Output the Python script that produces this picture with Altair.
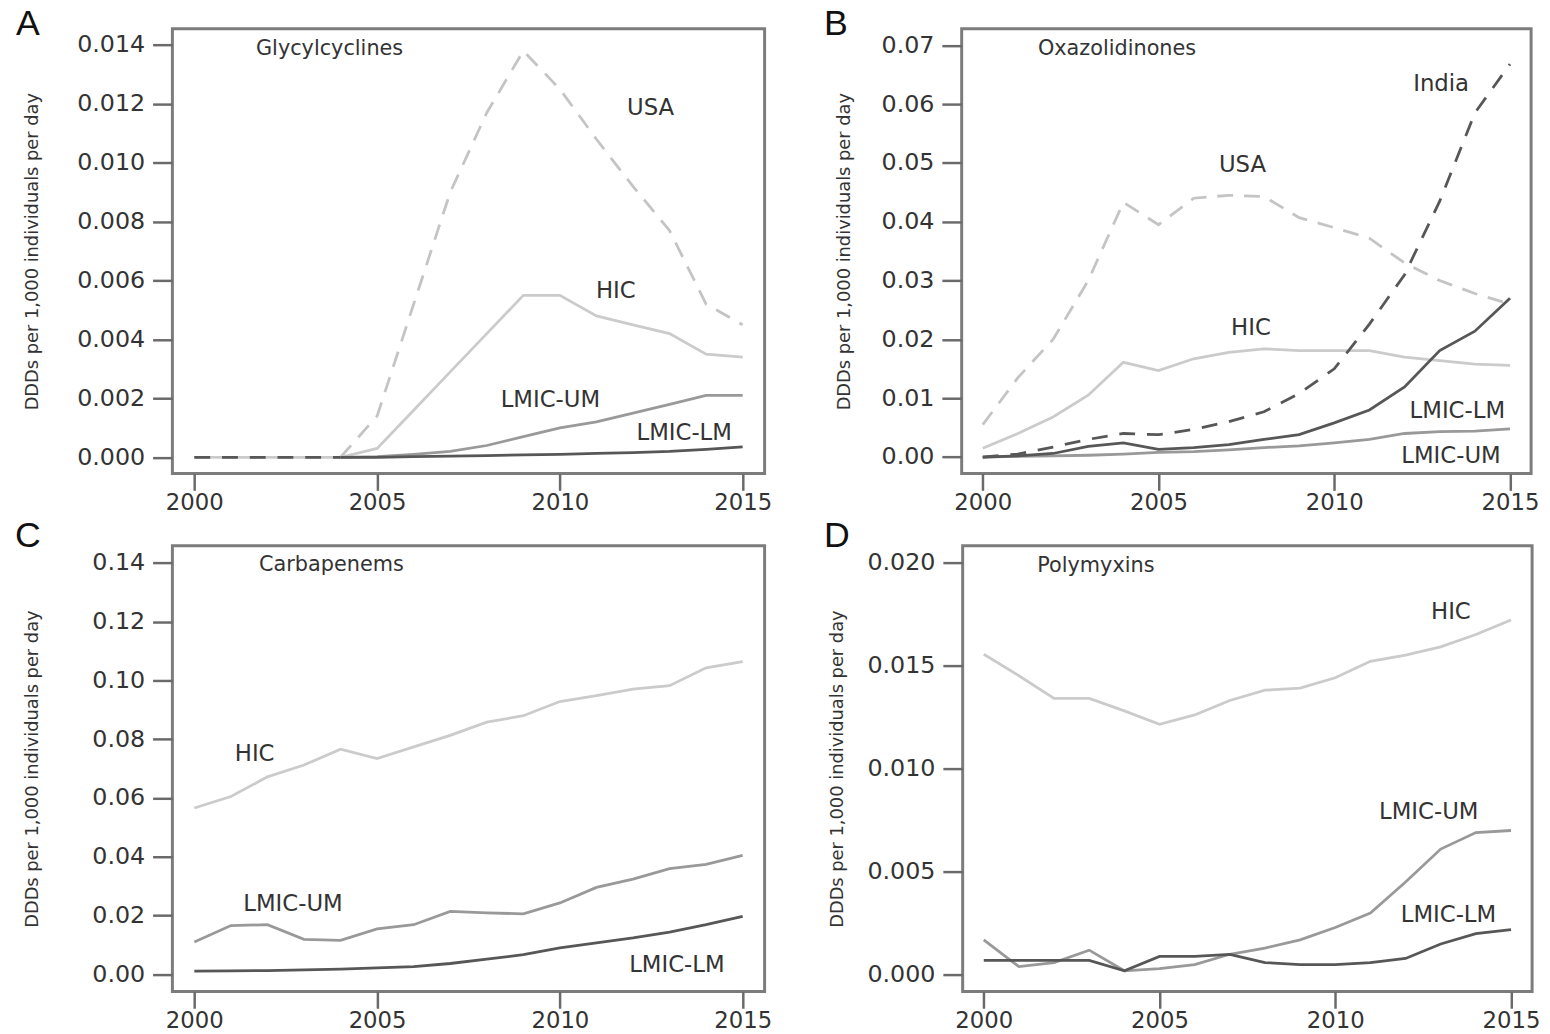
import altair as alt
import pandas as pd

YEARS = list(range(2000, 2016))
N = None

# ---------------- Panel A : Glycylcyclines ----------------
A_USA = [N, N, N, N, 0.0, 0.0014, 0.0052, 0.0090, 0.0117, 0.0138, 0.0125, 0.0108, 0.0092, 0.0077, 0.0052, 0.0045]
A_HIC = [0.0, 0.0, 0.0, 0.0, 0.0, 0.0003, 0.0016, 0.0029, 0.0042, 0.0055, 0.0055, 0.0048, 0.0045, 0.0042, 0.0035, 0.0034]
A_UM = [N, N, N, N, 0.0, 0.00002, 0.0001, 0.0002, 0.0004, 0.0007, 0.0010, 0.0012, 0.0015, 0.0018, 0.0021, 0.0021]
A_LM = [N, N, N, N, 0.0, 0.0, 0.00002, 0.00004, 0.00006, 0.00008, 0.0001, 0.00013, 0.00016, 0.0002, 0.00027, 0.00035]
A_INDIA = [0.0, 0.0, 0.0, 0.0, 0.0, N, N, N, N, N, N, N, N, N, N, N]
A_TITLE = ("Glycylcyclines", 2003.7, 0.01387)
A_LABELS = ["USA", "HIC", "LMIC-UM", "LMIC-LM"]
A_LABEL_X = [2012.48, 2011.53, 2009.74, 2013.4]
A_LABEL_Y = [0.01185, 0.00564, 0.00195, 0.00081]
A_YTICKS = [0.0, 0.002, 0.004, 0.006, 0.008, 0.010, 0.012, 0.014]

# ---------------- Panel B : Oxazolidinones ----------------
B_USA = [0.0055, 0.0135, 0.0200, 0.0300, 0.0433, 0.0395, 0.0440, 0.0445, 0.0443, 0.0407, 0.0390, 0.0372, 0.0330, 0.0300, 0.0278, 0.0260]
B_HIC = [0.0015, 0.0040, 0.0068, 0.0105, 0.0161, 0.0147, 0.0167, 0.0178, 0.0184, 0.0181, 0.0181, 0.0181, 0.0170, 0.0164, 0.0158, 0.0156]
B_UM = [0.0, 0.0001, 0.0002, 0.0003, 0.0005, 0.0008, 0.0009, 0.0012, 0.0016, 0.0019, 0.0024, 0.0030, 0.0040, 0.0043, 0.0044, 0.0048]
B_LM = [0.0, 0.0002, 0.0006, 0.0018, 0.0024, 0.0013, 0.0016, 0.0021, 0.0030, 0.0038, 0.0058, 0.0080, 0.0119, 0.0181, 0.0214, 0.0270]
B_INDIA = [0.0, 0.0005, 0.0017, 0.0030, 0.0040, 0.0038, 0.0047, 0.0060, 0.0077, 0.0108, 0.0150, 0.0226, 0.0310, 0.0435, 0.0585, 0.0668]
B_TITLE = ("Oxazolidinones", 2003.82, 0.0693)
B_LABELS = ["India", "USA", "HIC", "LMIC-LM", "LMIC-UM"]
B_LABEL_X = [2013.04, 2007.39, 2007.63, 2013.5, 2013.32]
B_LABEL_Y = [0.0634, 0.0497, 0.0220, 0.0078, 0.0002]
B_YTICKS = [0.0, 0.01, 0.02, 0.03, 0.04, 0.05, 0.06, 0.07]

# ---------------- Panel C : Carbapenems ----------------
C_HIC = [0.0566, 0.0605, 0.0672, 0.0712, 0.0766, 0.0734, 0.0774, 0.0813, 0.0858, 0.0880, 0.0928, 0.0948, 0.0970, 0.0982, 0.1043, 0.1064]
C_UM = [0.0110, 0.0166, 0.0169, 0.0119, 0.0116, 0.0155, 0.0169, 0.0214, 0.0209, 0.0206, 0.0243, 0.0296, 0.0324, 0.0360, 0.0374, 0.0405]
C_LM = [0.0011, 0.0012, 0.0013, 0.0015, 0.0018, 0.0022, 0.0026, 0.0037, 0.0052, 0.0067, 0.0090, 0.0107, 0.0124, 0.0144, 0.0169, 0.0197]
C_TITLE = ("Carbapenems", 2003.75, 0.1392)
C_LABELS = ["HIC", "LMIC-UM", "LMIC-LM"]
C_LABEL_X = [2001.65, 2002.7, 2013.2]
C_LABEL_Y = [0.0751, 0.0240, 0.0031]
C_YTICKS = [0.0, 0.02, 0.04, 0.06, 0.08, 0.10, 0.12, 0.14]

# ---------------- Panel D : Polymyxins ----------------
D_HIC = [0.01554, 0.0145, 0.0134, 0.0134, 0.0128, 0.01215, 0.0126, 0.0133, 0.0138, 0.0139, 0.0144, 0.0152, 0.0155, 0.0159, 0.0165, 0.0172]
D_UM = [0.0017, 0.0004, 0.0006, 0.0012, 0.0002, 0.0003, 0.0005, 0.0010, 0.0013, 0.0017, 0.0023, 0.0030, 0.0045, 0.0061, 0.0069, 0.0070]
D_LM = [0.0007, 0.0007, 0.0007, 0.0007, 0.0002, 0.0009, 0.0009, 0.0010, 0.0006, 0.0005, 0.0005, 0.0006, 0.0008, 0.0015, 0.0020, 0.0022]
D_TITLE = ("Polymyxins", 2003.19, 0.01984)
D_LABELS = ["HIC", "LMIC-UM", "LMIC-LM"]
D_LABEL_X = [2013.29, 2012.66, 2013.22]
D_LABEL_Y = [0.0176, 0.0079, 0.0029]
D_YTICKS = [0.0, 0.005, 0.010, 0.015, 0.020]

X_TICKS = [2000, 2005, 2010, 2015]
Y_TITLE = "DDDs per  1,000 individuals per day"

FONT = "DejaVu Sans"
TEXT = "#333333"
TICK = "#6a6a6a"
STYLE = {
    "USA": {"color": "#c4c4c4", "dash": [16, 11]},
    "HIC": {"color": "#cbcbcb", "dash": None},
    "LMIC-UM": {"color": "#999999", "dash": None},
    "LMIC-LM": {"color": "#575757", "dash": None},
    "India": {"color": "#575757", "dash": [16, 12]},
}
ORDER = ["USA", "HIC", "LMIC-UM", "LMIC-LM", "India"]


def build_df(series):
    rows = []
    for name, vals in series.items():
        for yr, v in zip(YEARS, vals):
            if v is not None:
                rows.append({"year": yr, "value": v, "series": name})
    return pd.DataFrame(rows)


def panel(letter, series, title, labels, lab_x, lab_y, ydomain, yticks, yfmt,
          width, height, title_x, letter_dx, letter_dy):
    df = build_df(series)
    xs = alt.Scale(domain=[1999.4, 2015.6], nice=False, zero=False)
    ys = alt.Scale(domain=ydomain, nice=False, zero=False)
    xaxis = alt.Axis(values=X_TICKS, format="d", title=None, grid=False, domain=False,
                     tickSize=17, tickWidth=2.5, tickColor=TICK,
                     labelFont=FONT, labelFontSize=23, labelColor=TEXT,
                     labelPadding=1, labelFlush=False)
    yaxis = alt.Axis(values=yticks, format=yfmt, title=Y_TITLE, grid=False, domain=False,
                     tickSize=20, tickWidth=2.5, tickColor=TICK,
                     labelFont=FONT, labelFontSize=24, labelColor=TEXT, labelPadding=8,
                     titleFont=FONT, titleFontSize=18, titleFontWeight="normal",
                     titleColor=TEXT, titleX=title_x, titleY=height / 2, titleAngle=270,
                     titleBaseline="middle", titleAlign="center")
    layers = []
    for name in ORDER:
        if name not in series:
            continue
        st = STYLE[name]
        props = {"color": st["color"], "strokeWidth": 2.8, "clip": True}
        if st["dash"]:
            props["strokeDash"] = st["dash"]
        layers.append(
            alt.Chart(df).transform_filter(alt.datum.series == name).mark_line(**props).encode(
                x=alt.X("year:Q", scale=xs, axis=xaxis),
                y=alt.Y("value:Q", scale=ys, axis=yaxis),
            )
        )
    lab_df = pd.DataFrame({"label": labels, "year": lab_x, "value": lab_y})
    text = alt.Chart(lab_df).mark_text(font=FONT, fontSize=23, color=TEXT).encode(
        x=alt.X("year:Q", scale=xs, axis=xaxis),
        y=alt.Y("value:Q", scale=ys, axis=yaxis),
        text="label:N",
    )
    tdf = pd.DataFrame({"label": [title[0]], "year": [title[1]], "value": [title[2]]})
    ttl = alt.Chart(tdf).mark_text(font=FONT, fontSize=21, color=TEXT).encode(
        x=alt.X("year:Q", scale=xs, axis=xaxis),
        y=alt.Y("value:Q", scale=ys, axis=yaxis),
        text="label:N",
    )
    return alt.layer(*layers, text, ttl).properties(
        width=width, height=height,
        title=alt.TitleParams(letter, anchor="start", frame="group", dx=letter_dx, dy=letter_dy,
                              offset=0, fontSize=36, font="Liberation Sans",
                              fontWeight="normal", color="#111111"),
    )


pA = panel("A", {"USA": A_USA, "HIC": A_HIC, "LMIC-UM": A_UM, "LMIC-LM": A_LM, "India": A_INDIA},
           A_TITLE, A_LABELS, A_LABEL_X, A_LABEL_Y, [-0.00055, 0.01455], A_YTICKS, ".3f",
           598, 449, -141, -158, 14)
pB = panel("B", {"USA": B_USA, "HIC": B_HIC, "LMIC-UM": B_UM, "LMIC-LM": B_LM, "India": B_INDIA},
           B_TITLE, B_LABELS, B_LABEL_X, B_LABEL_Y, [-0.0028, 0.0728], B_YTICKS, ".2f",
           575, 449, -118, -139, 14)
pC = panel("C", {"HIC": C_HIC, "LMIC-UM": C_UM, "LMIC-LM": C_LM},
           C_TITLE, C_LABELS, C_LABEL_X, C_LABEL_Y, [-0.0058, 0.1458], C_YTICKS, ".2f",
           598, 450, -141, -159, 9)
pD = panel("D", {"HIC": D_HIC, "LMIC-UM": D_UM, "LMIC-LM": D_LM},
           D_TITLE, D_LABELS, D_LABEL_X, D_LABEL_Y, [-0.0008, 0.0208], D_YTICKS, ".3f",
           575, 450, -126, -140, 9)

top = alt.hconcat(pA, pB, spacing=49)
bottom = alt.hconcat(pC, pD, spacing=49)
chart = alt.vconcat(top, bottom, spacing=0).properties(
    padding={"left": 5, "top": -9, "right": 0, "bottom": 0},
    background="white",
).configure_view(stroke="#7c7c7c", strokeWidth=3)

chart.save("out.html", embed_options={"renderer": "svg", "actions": False})
